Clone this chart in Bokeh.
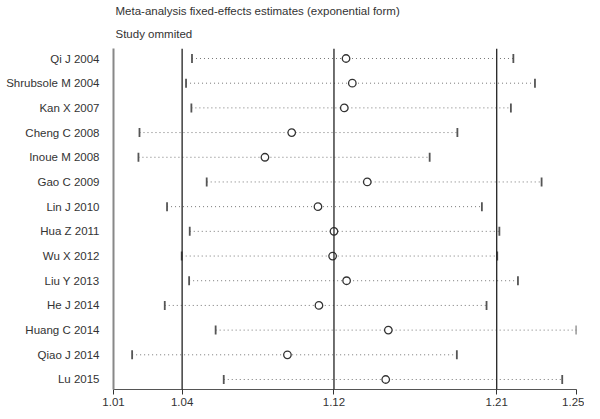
import numpy as np
from bokeh.plotting import figure
from bokeh.models import ColumnDataSource, FixedTicker, Span, Title, Range1d
from bokeh.embed import file_html
from bokeh.resources import INLINE

studies = ["Qi J 2004", "Shrubsole M 2004", "Kan X 2007", "Cheng C 2008", "Inoue M 2008",
           "Gao C 2009", "Lin J 2010", "Hua Z 2011", "Wu X 2012", "Liu Y 2013",
           "He J 2014", "Huang C 2014", "Qiao J 2014", "Lu 2015"]
estimate = [1.1263, 1.1296, 1.1254, 1.0982, 1.0846, 1.1375, 1.1117, 1.1200, 1.1193, 1.1266,
            1.1122, 1.1487, 1.0960, 1.1473]
lower = [1.0484, 1.0455, 1.0481, 1.0231, 1.0226, 1.0556, 1.0363, 1.0473, 1.0434, 1.0470,
         1.0352, 1.0600, 1.0196, 1.0640]
upper = [1.2175, 1.2298, 1.2161, 1.1862, 1.1710, 1.2336, 1.1998, 1.2096, 1.2084, 1.2201,
         1.2024, 1.2538, 1.1859, 1.2455]
tick_values = [1.0108, 1.0436, 1.1200, 1.2081, 1.2538]
tick_labels = ["1.01", "1.04", "1.12", "1.21", "1.25"]
ref_lines = [1.0436, 1.1200, 1.2081]

n = len(studies)
ypos = [n - i for i in range(n)]

src = ColumnDataSource(dict(y=ypos, est=estimate, lo=lower, up=upper, name=studies))

FONT = "Liberation Sans"
TXT = "#333333"

p = figure(width=584, height=413, output_backend="svg", toolbar_location=None,
           x_axis_type="log", x_range=Range1d(tick_values[0], tick_values[-1]),
           y_range=Range1d(0.595, n + 0.405),
           min_border_left=113, min_border_right=8, min_border_top=48, min_border_bottom=24)
p.outline_line_color = None
p.grid.visible = False

p.title.text = "Meta-analysis fixed-effects estimates (exponential form)"
p.title.align = "left"
p.title.offset = 2
p.title.standoff = 0
p.title.text_font = FONT
p.title.text_font_size = "11.5px"
p.title.text_font_style = "normal"
p.title.text_color = TXT
p.add_layout(Title(text="Study ommited", align="left",
                   offset=2, standoff=18, text_font=FONT, text_font_size="11.5px",
                   text_font_style="normal", text_color=TXT), "above")

for v in ref_lines:
    p.add_layout(Span(location=v, dimension="height", line_color="#222222", line_width=1.3))

p.segment(x0="lo", y0="y", x1="up", y1="y", source=src, line_color="#777777",
          line_width=1, line_dash="1 3")
p.scatter(x="lo", y="y", source=src, marker="dash", angle=np.pi / 2, size=9,
          line_color="#555555", line_width=1.8)
p.scatter(x="up", y="y", source=src, marker="dash", angle=np.pi / 2, size=9,
          line_color="#555555", line_width=1.8)
p.scatter(x="est", y="y", source=src, marker="circle", size=7.5, fill_color="white",
          line_color="#333333", line_width=1.3)

xa = p.xaxis[0]
xa.ticker = FixedTicker(ticks=tick_values)
xa.major_label_overrides = {v: l for v, l in zip(tick_values, tick_labels)}
xa.minor_tick_line_color = None
xa.major_tick_in = 0
xa.major_tick_out = 5
xa.major_tick_line_color = "#333333"
xa.axis_line_color = "#555555"
xa.axis_line_width = 1
xa.major_label_text_font = FONT
xa.major_label_text_font_size = "11.5px"
xa.major_label_text_color = TXT
xa.major_label_standoff = 3

ya = p.yaxis[0]
ya.ticker = FixedTicker(ticks=ypos)
ya.major_label_overrides = {y: s for y, s in zip(ypos, studies)}
ya.minor_tick_line_color = None
ya.major_tick_line_color = None
ya.axis_line_color = "#888888"
ya.axis_line_width = 2
ya.major_label_text_font = FONT
ya.major_label_text_font_size = "11.5px"
ya.major_label_text_color = TXT
ya.major_label_standoff = 8

open("out.html", "w").write(file_html(p, INLINE))
